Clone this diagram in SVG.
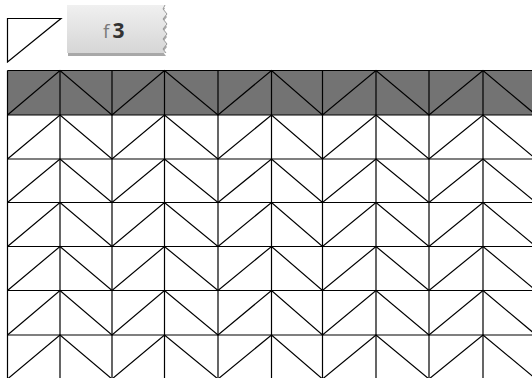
<svg xmlns="http://www.w3.org/2000/svg" width="532" height="378" viewBox="0 0 532 378">
<style>
.ln{fill:none;stroke:#000;stroke-width:1.2}
.grid{fill:none;stroke:#000;stroke-width:1.2}
.f{font-family:"Open Sans","DejaVu Sans",sans-serif;font-size:19px;fill:#7a7a7a}
.n{font-family:"Open Sans","DejaVu Sans",sans-serif;font-size:21px;font-weight:bold;fill:#333}
</style>
<defs>
<linearGradient id="tagg" x1="0" y1="0" x2="0" y2="1">
<stop offset="0" stop-color="#f0f0f0"/>
<stop offset="1" stop-color="#d6d6d6"/>
</linearGradient>
</defs>
<rect width="532" height="378" fill="#fff"/>
<g id="icon">
<polygon class="ln" points="7.5,18.5 61,18.5 7.5,62"/>
</g>
<g id="tag">
<path d="M68,6 H165 l-2,4 l4,5 l-4,5 l4,5 l-4,5 l4,5 l-4,5 l4,5 l-4,5 l3,4 H68 Z" fill="#a8a8a8" transform="translate(0,2)"/>
<path d="M67,5 H165 l-2,4 l4,5 l-4,5 l4,5 l-4,5 l4,5 l-4,5 l4,5 l-4,5 l3,4 H67 Z" fill="url(#tagg)"/>
<path d="M165,5 l-2,4 l4,5 l-4,5 l4,5 l-4,5 l4,5 l-4,5 l4,5 l-4,5 l3,4" fill="none" stroke="#9a9a9a" stroke-width="1"/>
<text x="103" y="38"><tspan class="f">f</tspan><tspan class="n" dx="3">3</tspan></text>
</g>
<g id="grid">
<rect x="7.5" y="70.5" width="525" height="44.5" fill="#737373"/>
<g class="grid">
<path d="M7.5,70.5H532 M7.5,115H532 M7.5,159H532 M7.5,202.5H532 M7.5,246.5H532 M7.5,290.5H532 M7.5,335H532"/>
<path d="M7.5,70.5V378 M60,70.5V378 M112,70.5V378 M164.5,70.5V378 M218,70.5V378 M271.5,70.5V378 M322.5,70.5V378 M376,70.5V378 M429,70.5V378 M483,70.5V378"/>
<polyline points="7.5,115 60,70.5 112,115 164.5,70.5 218,115 271.5,70.5 322.5,115 376,70.5 429,115 483,70.5 536,115"/>
<polyline points="7.5,159 60,115 112,159 164.5,115 218,159 271.5,115 322.5,159 376,115 429,159 483,115 536,159"/>
<polyline points="7.5,202.5 60,159 112,202.5 164.5,159 218,202.5 271.5,159 322.5,202.5 376,159 429,202.5 483,159 536,202.5"/>
<polyline points="7.5,246.5 60,202.5 112,246.5 164.5,202.5 218,246.5 271.5,202.5 322.5,246.5 376,202.5 429,246.5 483,202.5 536,246.5"/>
<polyline points="7.5,290.5 60,246.5 112,290.5 164.5,246.5 218,290.5 271.5,246.5 322.5,290.5 376,246.5 429,290.5 483,246.5 536,290.5"/>
<polyline points="7.5,335 60,290.5 112,335 164.5,290.5 218,335 271.5,290.5 322.5,335 376,290.5 429,335 483,290.5 536,335"/>
<polyline points="7.5,379 60,335 112,379 164.5,335 218,379 271.5,335 322.5,379 376,335 429,379 483,335 536,379"/>
</g>
</g>
</svg>
